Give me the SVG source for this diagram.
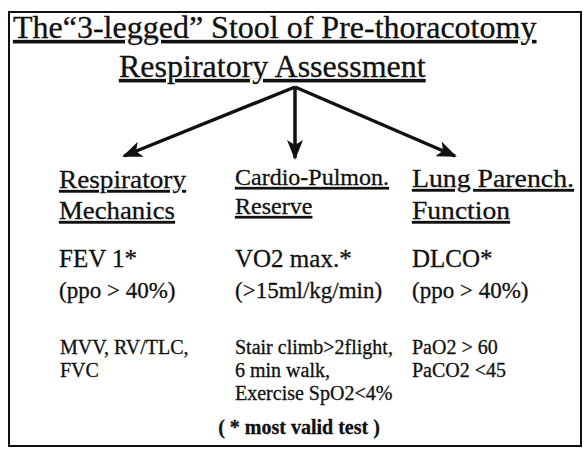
<svg xmlns="http://www.w3.org/2000/svg" width="588" height="456" viewBox="0 0 588 456">
<style>
text{font-family:"Liberation Serif","Times New Roman",serif;fill:#111;stroke:#111;stroke-width:0.3}
.t{font-size:32px;text-decoration:underline}
.h{font-size:26px;text-decoration:underline}
.h2{font-size:24px;text-decoration:underline}
.m{font-size:25px}
.p{font-size:23px}
.s{font-size:20px}
.c{stroke:#111;stroke-width:3.5;fill:none;marker-end:url(#ah)}
</style>
<defs>
<marker id="ah" viewBox="0 0 20 16" refX="18" refY="8" markerWidth="20" markerHeight="16" markerUnits="userSpaceOnUse" orient="auto">
<path d="M0,0 L20,8 L0,16 L5,8 Z" fill="#111"/>
</marker>
</defs>
<rect x="0" y="0" width="588" height="456" fill="#fff"/>
<rect id="frame" x="9" y="12" width="572" height="434" fill="none" stroke="#111" stroke-width="2"/>
<g id="title">
<text class="t" x="13" y="38">The“3-legged” Stool of Pre-thoracotomy</text>
<text class="t" x="119" y="77">Respiratory Assessment</text>
</g>
<g id="connectors">
<line class="c" x1="295" y1="87" x2="124" y2="156"/>
<line class="c" x1="295" y1="87" x2="295" y2="158"/>
<line class="c" x1="295" y1="87" x2="455" y2="156"/>
</g>
<g id="col1">
<text class="h" x="59" y="188" textLength="127" lengthAdjust="spacingAndGlyphs">Respiratory</text>
<text class="h" x="59" y="219" textLength="116" lengthAdjust="spacingAndGlyphs">Mechanics</text>
<text class="m" x="59" y="267">FEV 1*</text>
<text class="p" x="59" y="298">(ppo &gt; 40%)</text>
<text class="s" x="60" y="354">MVV, RV/TLC,</text>
<text class="s" x="60" y="377">FVC</text>
</g>
<g id="col2">
<text class="h2" x="235" y="185">Cardio-Pulmon.</text>
<text class="h2" x="235" y="214">Reserve</text>
<text class="m" x="235" y="267">VO2 max.*</text>
<text class="p" x="235" y="298">(&gt;15ml/kg/min)</text>
<text class="s" x="235" y="354">Stair climb&gt;2flight,</text>
<text class="s" x="235" y="377">6 min walk,</text>
<text class="s" x="235" y="400">Exercise SpO2&lt;4%</text>
</g>
<g id="col3">
<text class="h" x="412" y="187" textLength="162" lengthAdjust="spacingAndGlyphs">Lung Parench.</text>
<text class="h" x="412" y="219" textLength="98" lengthAdjust="spacingAndGlyphs">Function</text>
<text class="m" x="412" y="267">DLCO*</text>
<text class="p" x="412" y="298">(ppo &gt; 40%)</text>
<text class="s" x="412" y="354">PaO2 &gt; 60</text>
<text class="s" x="412" y="377">PaCO2 &lt;45</text>
</g>
<g id="note">
<text class="s" x="299" y="434" text-anchor="middle" font-weight="bold" font-size="19">( * most valid test )</text>
</g>
</svg>
